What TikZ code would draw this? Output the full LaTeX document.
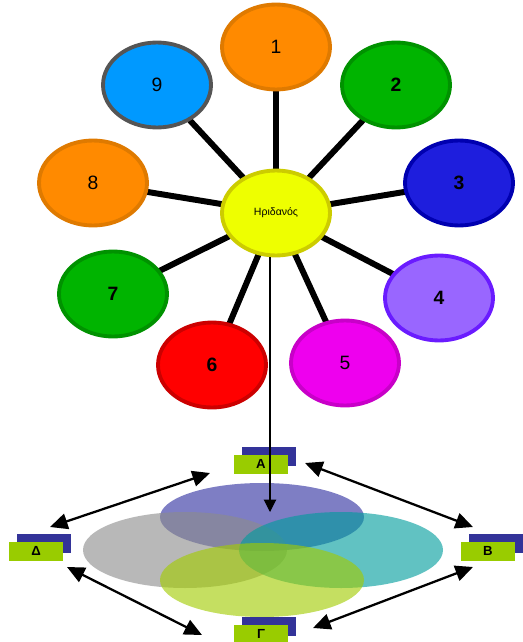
\documentclass[tikz,border=0pt]{standalone}
\usepackage{fontspec}
\setmainfont{Liberation Sans}
\usepackage{tikz}
\usetikzlibrary{shapes.geometric,arrows.meta,shadows,backgrounds}

\definecolor{orangefill}{HTML}{FF8A00}
\definecolor{orangeline}{HTML}{DF7A00}
\definecolor{greenfill}{HTML}{00B400}
\definecolor{greenline}{HTML}{009200}
\definecolor{bluefill}{HTML}{1E1EDD}
\definecolor{blueline}{HTML}{0000B0}
\definecolor{purplefill}{HTML}{9966FF}
\definecolor{purpleline}{HTML}{6A1BFF}
\definecolor{magentafill}{HTML}{EE00EE}
\definecolor{magentaline}{HTML}{C800C8}
\definecolor{redfill}{HTML}{FF0000}
\definecolor{redline}{HTML}{CC0000}
\definecolor{skyfill}{HTML}{0099FF}
\definecolor{skyline}{HTML}{555555}
\definecolor{hubfill}{HTML}{EEFF00}
\definecolor{hubline}{HTML}{CCCC00}
\definecolor{tagfill}{HTML}{99CC00}
\definecolor{tagback}{HTML}{333399}
\definecolor{setblue}{HTML}{2E2EA0}
\definecolor{setgray}{HTML}{8C8C8C}
\definecolor{setteal}{HTML}{009C9C}
\definecolor{setlime}{HTML}{A2CC00}

\tikzset{
  petal/.style={draw,ellipse,line width=2.2pt,minimum width=2.16cm,minimum height=1.7cm,inner sep=0pt,font=\fontsize{11}{12}\selectfont},
  spoke/.style={line width=3.4pt},
  tag/.style={rectangle,fill=tagfill,minimum width=1.08cm,minimum height=0.38cm,inner sep=0pt,
    font=\fontsize{7.5}{8}\selectfont\bfseries,
    general shadow={fill=tagback,shadow xshift=0.16cm,shadow yshift=0.16cm}},
  link/.style={{Triangle[length=10pt,width=9pt]}-{Triangle[length=10pt,width=9pt]},line width=1.3pt},
  setarea/.style={fill opacity=0.62}
}

\begin{document}
\begin{tikzpicture}[x=0.02cm,y=-0.02cm]
\useasboundingbox (0,0) rectangle (522,642);

% flower
\node[petal,fill=hubfill,draw=hubline,font=\fontsize{6}{7}\selectfont] (hub) at (276,213) {Ηριδανός};
\node[petal,fill=orangefill,draw=orangeline] (p1) at (276,47) {1};
\node[petal,fill=greenfill,draw=greenline,font=\fontsize{11}{12}\selectfont\bfseries] (p2) at (396,85) {2};
\node[petal,fill=bluefill,draw=blueline,font=\fontsize{11}{12}\selectfont\bfseries] (p3) at (459,183) {3};
\node[petal,fill=purplefill,draw=purpleline,font=\fontsize{11}{12}\selectfont\bfseries] (p4) at (439,298) {4};
\node[petal,fill=magentafill,draw=magentaline] (p5) at (345,363) {5};
\node[petal,fill=redfill,draw=redline,font=\fontsize{11}{12}\selectfont\bfseries] (p6) at (212,365) {6};
\node[petal,fill=greenfill,draw=greenline,font=\fontsize{11}{12}\selectfont\bfseries] (p7) at (113,294) {7};
\node[petal,fill=orangefill,draw=orangeline] (p8) at (93,183) {8};
\node[petal,fill=skyfill,draw=skyline] (p9) at (157,85) {9};

\begin{scope}[on background layer]
\foreach \p in {p1,p2,p3,p4,p5,p6,p7,p8,p9}
  \draw[spoke] (hub.center) -- (\p.center);
\end{scope}

% sets
\fill[setblue,setarea] (262,517) ellipse [x radius=102,y radius=34];
\fill[setgray,setarea] (185,550) ellipse [x radius=102,y radius=38];
\fill[setteal,setarea] (341,550) ellipse [x radius=102,y radius=38];
\fill[setlime,setarea] (262,580) ellipse [x radius=102,y radius=37];

\node[tag] (A) at (261,464) {Α};
\node[tag] (B) at (488,551) {Β};
\node[tag] (G) at (261,634) {Γ};
\node[tag] (D) at (36,551) {Δ};

\coordinate (ad) at (210,473);
\coordinate (da) at (50,527);
\coordinate (ab) at (305,463);
\coordinate (ba) at (473,527);
\coordinate (bg) at (313,628);
\coordinate (gb) at (473,567);
\coordinate (dg) at (202,635);
\coordinate (gd) at (67,567);
\coordinate (drop) at (270,512);

\draw[link] (da) -- (ad);
\draw[link] (ab) -- (ba);
\draw[link] (gb) -- (bg);
\draw[link] (gd) -- (dg);

\draw[line width=0.6pt,-{Triangle[length=7pt,width=7pt]}] (hub.south -| drop) -- (drop);
\end{tikzpicture}
\end{document}
